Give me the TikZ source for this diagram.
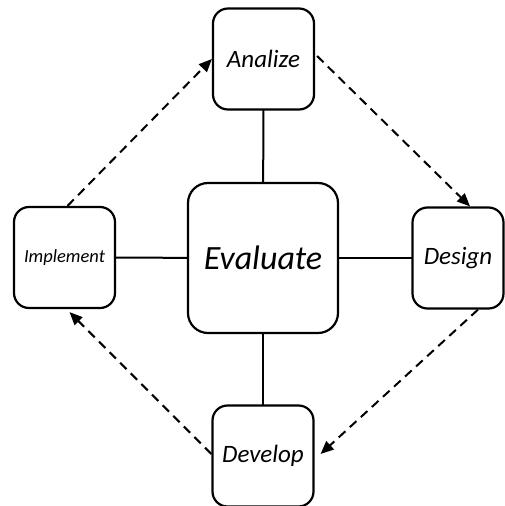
\documentclass[tikz,border=0pt]{standalone}
\usepackage{fontspec}
\setmainfont{Carlito}
\usetikzlibrary{arrows.meta}
\begin{document}
\begin{tikzpicture}[x=1pt,y=-1pt,line cap=round,
    box/.style={draw,line width=2.2pt,rounded corners=15pt,fill=white,
      minimum width=101pt,minimum height=101pt,inner sep=0pt,font=\itshape\fontsize{25}{28}\selectfont},
    link/.style={line width=2pt},
    flow/.style={line width=2pt,dash pattern=on 9pt off 6pt,line cap=butt,
      -{Triangle[length=13pt,width=11pt]}}]
    \useasboundingbox (0,0) rectangle (505,506);
    % centre and the four phases
    \node[box,minimum width=150pt,minimum height=150pt,rounded corners=20pt,
      font=\itshape\fontsize{34}{37}\selectfont] (eval) at (263,258) {Evaluate};
    \node[box] (analize) at (263.5,59) {Analize};
    \node[box] (design) at (458,258) [minimum width=91pt] {Design};
    \node[box] (develop) at (263,456) {Develop};
    \node[box,font=\itshape\fontsize{18.5}{21}\selectfont] (impl) at (64.5,257.5) {Implement};
    % spokes
    \draw[link] (analize) -- (eval); \draw[link] (design) -- (eval);
    \draw[link] (develop) -- (eval); \draw[link] (impl) -- (eval);
    % cycle
    \draw[flow] ([xshift=3pt]impl.north) -- (analize.west);
    \draw[flow] ([xshift=2pt,yshift=3pt]analize.east) -- ([xshift=12pt]design.north);
    \draw[flow] ([xshift=20pt]design.south) -- ([xshift=6pt,yshift=2pt]develop.east);
    \draw[flow] ([yshift=2pt]develop.west) -- ([xshift=5pt,yshift=-3pt]impl.south);
  \end{tikzpicture}
\end{document}
